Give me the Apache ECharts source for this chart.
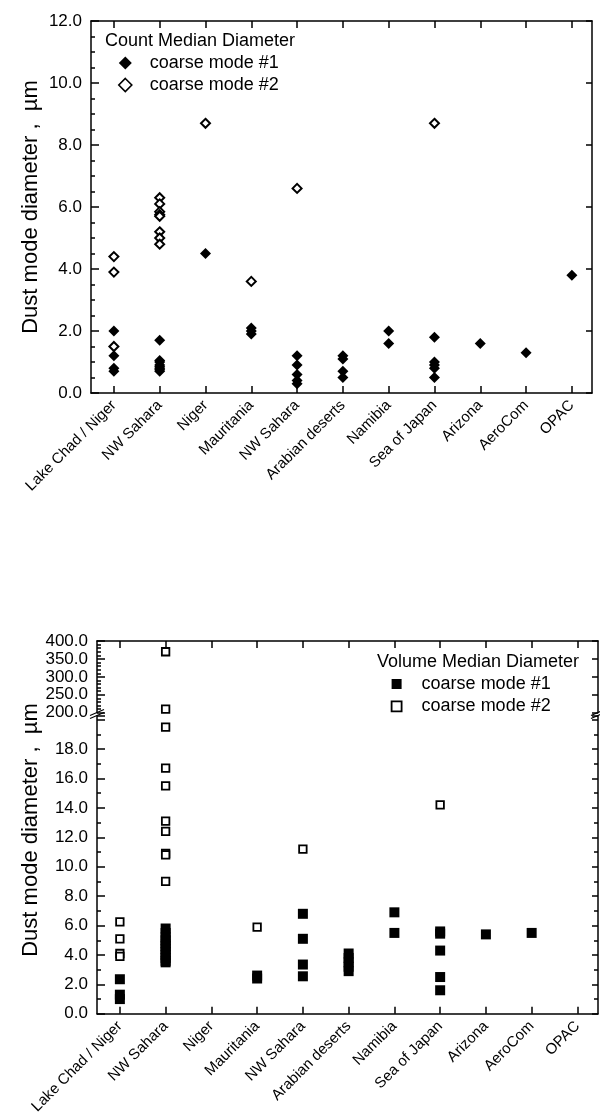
<!DOCTYPE html>
<html>
<head>
<meta charset="utf-8">
<script src="https://cdn.jsdelivr.net/npm/echarts@6/dist/echarts.min.js"></script>
<style>
    html, body { margin: 0; padding: 0; background: #fff; }
    #countChart { position: absolute; left: 0; top: 0; width: 600px; height: 560px; }
    #volumeChart { position: absolute; left: 0; top: 560px; width: 600px; height: 558px; }
</style>
</head>
<body>
<div id="countChart"></div>
<div id="volumeChart"></div>
<script>
const categories = ['Lake Chad / Niger', 'NW Sahara', 'Niger', 'Mauritania', 'NW Sahara',
    'Arabian deserts', 'Namibia', 'Sea of Japan', 'Arizona', 'AeroCom', 'OPAC'];
const categoryTicks = [1, 2, 3, 4, 5, 6, 7, 8, 9, 10, 11];

// count median diameter (um), one list per category
const cmdMode1 = [[2.0, 1.2, 0.8, 0.7], [1.7, 1.05, 1.0, 0.9, 0.85, 0.8, 0.75, 0.7], [4.5], [2.1, 2.0, 1.9],
    [1.2, 0.9, 0.6, 0.4, 0.3], [1.2, 1.1, 0.7, 0.5], [2.0, 1.6], [1.8, 1.0, 0.9, 0.8, 0.5], [1.6], [1.3], [3.8]];
const cmdMode2 = [[4.4, 3.9, 1.5], [6.3, 6.1, 5.85, 5.75, 5.7, 5.2, 5.0, 4.8], [8.7], [3.6], [6.6],
    [], [], [8.7], [], [], []];

// volume median diameter (um), one list per category
const vmdMode1 = [[2.35, 1.3, 1.0], [5.8, 5.5, 5.2, 5.0, 4.8, 4.6, 4.4, 4.2, 4.0, 3.8, 3.6, 3.5], [], [2.6, 2.4],
    [6.8, 5.1, 3.35, 2.55], [4.1, 3.8, 3.5, 3.2, 2.9], [6.9, 5.5], [5.6, 5.45, 4.3, 2.5, 1.6], [5.4], [5.5], []];
const vmdMode2 = [[6.25, 5.1, 4.1, 3.9], [370, 210, 19.5, 16.7, 15.5, 13.1, 12.4, 10.9, 10.8, 9.0], [], [5.9],
    [11.2], [], [], [14.2], [], [], []];

const fontFamily = "'Liberation Sans', Arial, sans-serif";
const black = '#000';
const lineStyle = { color: black, width: 1.5 };

const toPoints = (lists, keep) => lists.flatMap((vals, i) =>
    vals.filter(v => !keep || keep(v)).map(v => [i + 1, v]));

const catAxis = (grid, position, min, max, withLabels) => ({
    type: 'value',
    gridIndex: grid,
    position,
    min,
    max,
    axisLine: { show: true, onZero: false, lineStyle },
    axisTick: { show: true, inside: true, length: 7, customValues: categoryTicks, lineStyle },
    axisLabel: withLabels ? {
        show: true,
        customValues: categoryTicks,
        rotate: 45,
        margin: 10,
        fontSize: 15,
        fontFamily,
        color: black,
        formatter: v => categories[v - 1]
    } : { show: false },
    splitLine: { show: false }
});

const valAxis = (grid, position, min, max, interval, minorSplit, labelFn) => ({
    type: 'value',
    gridIndex: grid,
    position,
    min,
    max,
    interval,
    axisLine: { show: true, onZero: false, lineStyle },
    axisTick: { show: true, inside: true, length: position === 'left' ? 8 : 6, lineStyle },
    minorTick: { show: minorSplit > 0, splitNumber: minorSplit || 5, length: 4, lineStyle },
    axisLabel: labelFn ? {
        show: true, margin: 9, fontSize: 17, fontFamily, color: black, formatter: labelFn
    } : { show: false },
    splitLine: { show: false },
    minorSplitLine: { show: false }
});

const nameText = (x, y) => ({
    type: 'text',
    x,
    y,
    rotation: Math.PI / 2,
    style: {
        text: 'Dust mode diameter ,  µm',
        font: '22px ' + fontFamily,
        fill: black,
        textAlign: 'center',
        textVerticalAlign: 'middle'
    }
});

const titleText = (x, y, text) => ({
    type: 'text',
    x,
    y,
    style: { text, font: '18px ' + fontFamily, fill: black, textAlign: 'left', textVerticalAlign: 'middle' }
});

const filledDiamond = { color: black, opacity: 1 };
const openDiamond = { color: '#fff', borderColor: black, borderWidth: 2, opacity: 1 };
const filledSquare = { color: black, opacity: 1 };
const openSquare = { color: '#fff', borderColor: black, borderWidth: 1.8, opacity: 1 };

drawCount();
drawVolume();

function drawCount() {
    const countOption = {
        animation: false,
        grid: [{ left: 91, top: 21, width: 501, height: 372 }],
        graphic: [nameText(31, 207), titleText(105, 41, 'Count Median Diameter')],
        legend: {
            orient: 'vertical',
            left: 113,
            top: 49,
            itemWidth: 13,
            itemHeight: 13,
            itemGap: 4,
            textStyle: { fontSize: 18, fontFamily, color: black, lineHeight: 18, padding: [0, 0, 0, 13] },
            data: [
                { name: 'coarse mode #1', icon: 'diamond', itemStyle: filledDiamond },
                { name: 'coarse mode #2', icon: 'diamond', itemStyle: { color: '#fff', borderColor: black, borderWidth: 1.6 } }
            ]
        },
        xAxis: [catAxis(0, 'bottom', 0.5, 11.44, true), catAxis(0, 'top', 0.5, 11.44, false)],
        yAxis: [
            valAxis(0, 'left', 0, 12, 2, 4, v => v.toFixed(1)),
            valAxis(0, 'right', 0, 12, 2, 0, null)
        ],
        series: [
            {
                name: 'coarse mode #1', type: 'scatter', symbol: 'diamond', symbolSize: 11,
                itemStyle: filledDiamond, data: toPoints(cmdMode1)
            },
            {
                name: 'coarse mode #2', type: 'scatter', symbol: 'diamond', symbolSize: 9,
                itemStyle: openDiamond, data: toPoints(cmdMode2)
            }
        ]
    };
    const chart = echarts.init(document.getElementById('countChart'));
    chart.setOption(countOption);
    return chart;
}

function drawVolume() {
    const big = v => v > 100;
    const small = v => v <= 100;
    const breakMark = (x, y) => [
        { type: 'line', shape: { x1: x - 7, y1: y + 2, x2: x + 7, y2: y - 4 }, style: { stroke: black, lineWidth: 1.2 } },
        { type: 'line', shape: { x1: x - 7, y1: y + 5, x2: x + 7, y2: y - 1 }, style: { stroke: black, lineWidth: 1.2 } }
    ];
    const volumeOption = {
        animation: false,
        grid: [
            { left: 97, top: 156, width: 501, height: 297.8 },
            { left: 97, top: 81, width: 501, height: 71.7 }
        ],
        graphic: [
            nameText(31, 270),
            titleText(377, 101.7, 'Volume Median Diameter'),
            ...breakMark(97, 153.5),
            ...breakMark(598, 153.5)
        ],
        legend: {
            orient: 'vertical',
            left: 385.7,
            top: 110,
            itemWidth: 10,
            itemHeight: 10,
            itemGap: 4.4,
            textStyle: { fontSize: 18, fontFamily, color: black, lineHeight: 18, padding: [0, 0, 0, 15] },
            data: [
                { name: 'coarse mode #1', icon: 'rect', itemStyle: filledSquare },
                { name: 'coarse mode #2', icon: 'rect', itemStyle: { color: '#fff', borderColor: black, borderWidth: 1.8 } }
            ]
        },
        xAxis: [catAxis(0, 'bottom', 0.5, 11.45, true), catAxis(1, 'top', 0.5, 11.45, false)],
        yAxis: [
            valAxis(0, 'left', 0, 20.25, 2, 2, v => (v > 19 ? '' : v.toFixed(1))),
            valAxis(0, 'right', 0, 20.25, 2, 2, null),
            valAxis(1, 'left', 200, 400, 50, 5, v => v.toFixed(1)),
            valAxis(1, 'right', 200, 400, 50, 0, null)
        ],
        series: [
            {
                name: 'coarse mode #1', type: 'scatter', symbol: 'rect', symbolSize: 10,
                xAxisIndex: 0, yAxisIndex: 0, itemStyle: filledSquare, data: toPoints(vmdMode1, small)
            },
            {
                name: 'coarse mode #2', type: 'scatter', symbol: 'rect', symbolSize: 7.5,
                xAxisIndex: 0, yAxisIndex: 0, itemStyle: openSquare, data: toPoints(vmdMode2, small)
            },
            {
                name: 'coarse mode #2', type: 'scatter', symbol: 'rect', symbolSize: 7.5,
                xAxisIndex: 1, yAxisIndex: 2, itemStyle: openSquare, data: toPoints(vmdMode2, big)
            }
        ]
    };
    const chart = echarts.init(document.getElementById('volumeChart'));
    chart.setOption(volumeOption);
    return chart;
}
</script>
</body>
</html>
